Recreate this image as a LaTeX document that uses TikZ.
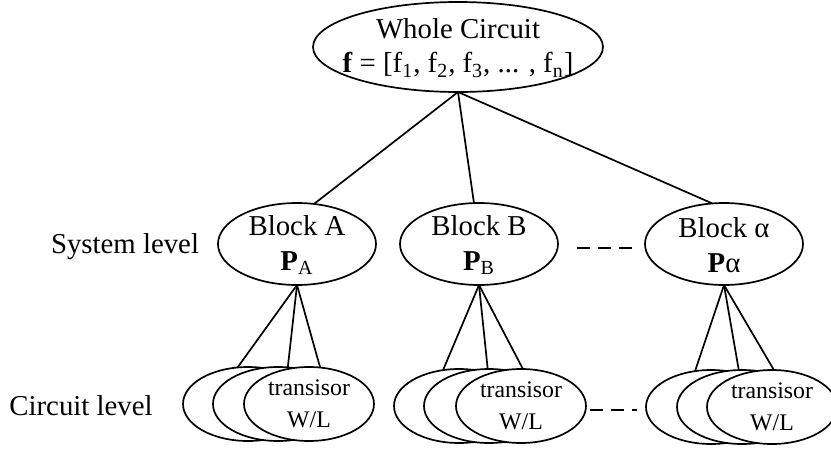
\documentclass[tikz,border=0pt]{standalone}
\usepackage{fontspec}
\setmainfont{Liberation Serif}
\usetikzlibrary{shapes.geometric}
\begin{document}
\begin{tikzpicture}[x=0.5pt,y=-0.5pt,line width=0.85pt,
  txt/.style={font=\fontsize{14.4}{17.2}\selectfont, align=center, inner sep=0pt},
  smalltxt/.style={font=\fontsize{11.9}{16}\selectfont, align=center, inner sep=0pt},
  oval/.style={ellipse, draw, fill=white, inner sep=0pt, outer sep=0pt},
  topoval/.style={oval, minimum width=145pt, minimum height=45pt},
  blkoval/.style={oval, minimum width=79pt, minimum height=41pt},
  troval/.style={oval, minimum width=65pt, minimum height=37pt},
  gapdash/.style={dash pattern=on 6.5pt off 4pt}]
\useasboundingbox (0,0) rectangle (831,450);

% whole circuit
\node[topoval] (W) at (458,47) {};
\node[txt] (Wt) at (458,48) {Whole Circuit\\\textbf{f} = [f\textsubscript{1}, f\textsubscript{2}, f\textsubscript{3}, ... , f\textsubscript{n}]};

% system level blocks
\node[blkoval] (A) at (297,244) {};
\node[txt] (At) at (297,245) {Block A\\\textbf{P}\textsubscript{A}};
\node[blkoval] (B) at (479,244) {};
\node[txt] (Bt) at (479,245) {Block B\\\textbf{P}\textsubscript{B}};
\node[blkoval] (G) at (724,244) {};
\node[txt] (Gt) at (724,245) {Block α\\\textbf{P}α};

\node[txt] (sys) at (125,247) {System level};
\node[txt] (cir) at (81,406) {Circuit level};

% circuit level transistor groups (back, middle, front)
\node[troval] (A1) at (248,404) {};
\node[troval] (A2) at (278,404) {};
\node[troval] (A3) at (309,404) {};
\node[smalltxt] (A3t) at (A3.center) {transisor\\W/L};

\node[troval] (B1) at (459,406) {};
\node[troval] (B2) at (489,406) {};
\node[troval] (B3) at (521,406) {};
\node[smalltxt] (B3t) at (B3.center) {transisor\\W/L};

\node[troval] (G1) at (711,407) {};
\node[troval] (G2) at (742,407) {};
\node[troval] (G3) at (772,407) {};
\node[smalltxt] (G3t) at (G3.center) {transisor\\W/L};

% tree connectors
\draw (W.south) -- (A.67);
\draw (W.south) -- (B.97);
\draw (W.south) -- (G.106);

\draw (A.south) -- (A1.106);
\draw (A.south) -- (A2.75);
\draw (A.south) -- (A3.73);

\draw (B.south) -- (B1.114);
\draw (B.south) -- (B2.92);
\draw (B.south) -- (B3.87);

\draw (G.south) -- (G1.114);
\draw (G.south) -- (G2.95);
\draw (G.south) -- (G3.87);

% ellipsis dashes
\coordinate (s1) at (577,248);
\coordinate (s2) at (633,248);
\draw[gapdash] (s1) -- (s2);
\coordinate (c1) at (590,410);
\coordinate (c2) at (637,410);
\draw[gapdash] (c1) -- (c2);
\end{tikzpicture}
\end{document}
